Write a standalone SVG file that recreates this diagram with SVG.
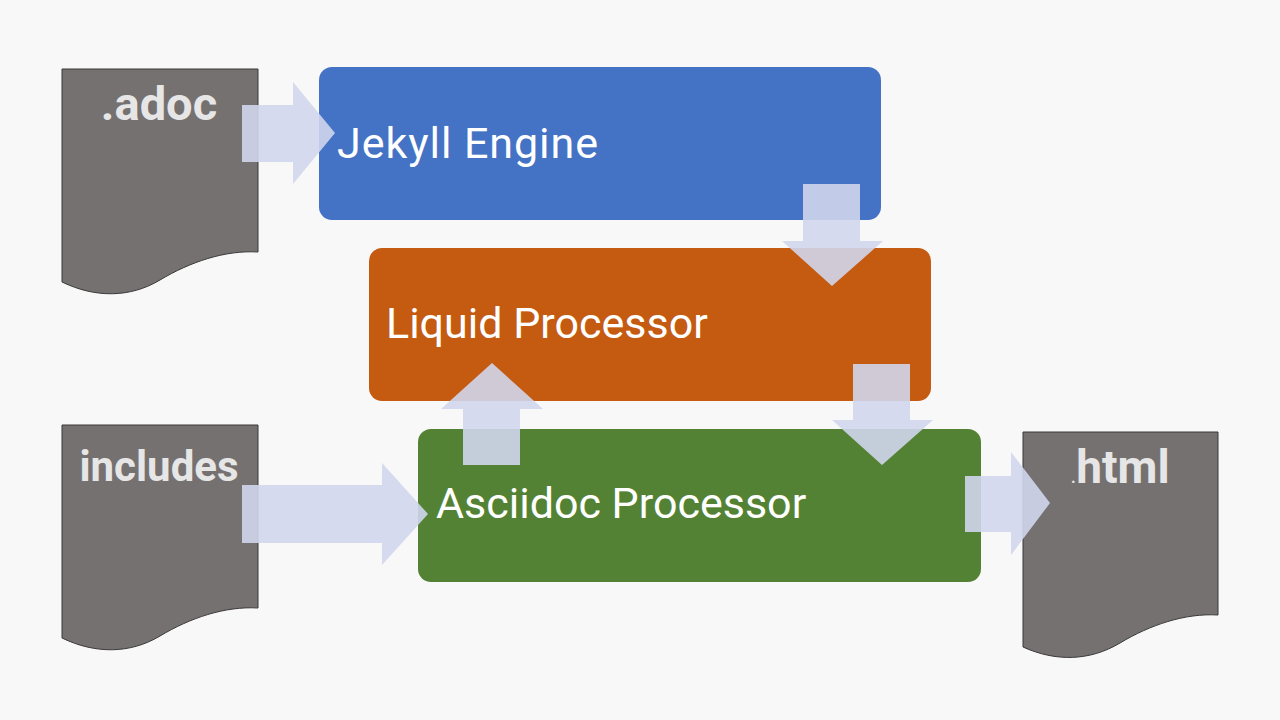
<svg xmlns="http://www.w3.org/2000/svg" width="1280" height="720" viewBox="0 0 1280 720">
<style>
.doc{fill:#767171;stroke:#3a3838;stroke-width:1}
.doclbl{font-family:Roboto,"Liberation Sans",sans-serif;font-weight:bold;font-size:42px;fill:#e7e6e6;text-anchor:middle}
.boxlbl{font-family:Roboto,"Liberation Sans",sans-serif;font-size:43px;fill:#ffffff}
.arr{fill:#d0d6ec;fill-opacity:0.9}
</style>
<rect x="0" y="0" width="1280" height="720" fill="#f8f8f8"/>
<g id="doc-adoc">
<path class="doc" d="M62,69 H258 V252 C225,250 190,262 160,280 C130,298 95,298 62,282 Z"/>
<text class="doclbl" x="159" y="120" style="font-size:47px">.adoc</text>
</g>
<g id="doc-includes">
<path class="doc" d="M62,425 H258 V608 C225,606 190,618 160,636 C130,654 95,654 62,638 Z"/>
<text class="doclbl" x="159" y="481">includes</text>
</g>
<g id="doc-html">
<path class="doc" d="M1023,432 H1218 V615 C1185,613 1150,625 1120,643 C1090,661 1056,662 1023,647 Z"/>
<text class="doclbl" x="1120" y="483" style="font-size:46px"><tspan style="font-size:22px;font-weight:normal">.</tspan>html</text>
</g>
<g id="jekyll">
<rect x="319" y="67" width="562" height="153" rx="13" fill="#4472c4"/>
<text class="boxlbl" x="337" y="158" textLength="261" lengthAdjust="spacing">Jekyll Engine</text>
</g>
<g id="liquid">
<rect x="369" y="248" width="562" height="153" rx="13" fill="#c55a11"/>
<text class="boxlbl" x="386" y="338">Liquid Processor</text>
</g>
<g id="asciidoc">
<rect x="418" y="429" width="563" height="153" rx="13" fill="#548235"/>
<text class="boxlbl" x="436" y="518">Asciidoc Processor</text>
</g>
<g id="connectors">
<polygon class="arr" points="242,105 293,105 293,82 335,133 293,184 293,162 242,162"/>
<polygon class="arr" points="803,184 860,184 860,241 883,241 832,286 782,241 803,241"/>
<polygon class="arr" points="463,465 463,409 441,409 492,363 543,409 520,409 520,465"/>
<polygon class="arr" points="853,364 910,364 910,420 933,420 882,465 832,420 853,420"/>
<polygon class="arr" points="242,485 382,485 382,463 428,514 382,565 382,543 242,543"/>
<polygon class="arr" points="965,476 1011,476 1011,452 1050,503 1011,555 1011,532 965,532"/>
</g>
</svg>
